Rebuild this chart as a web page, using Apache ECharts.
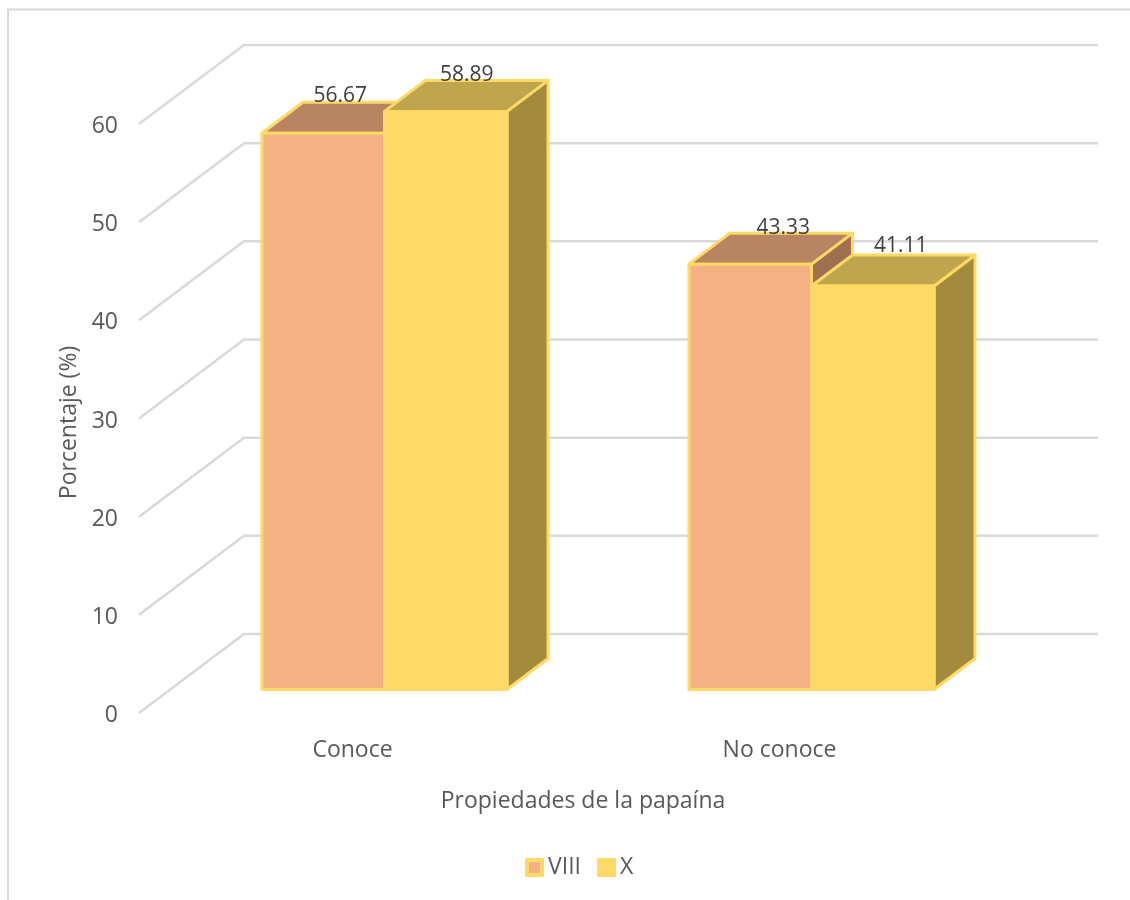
<!DOCTYPE html>
<html>
<head>
<meta charset="utf-8">
<style>html,body{margin:0;padding:0;background:#fff}#c{width:1130px;height:900px}</style>
<script src="https://cdn.jsdelivr.net/npm/echarts@6/dist/echarts.min.js"></script>
</head>
<body>
<div id="c"></div>
<script>
const categories = ['Conoce', 'No conoce'];
const seriesViii = [56.67, 43.33];
const seriesX = [58.89, 41.11];
const gridValues = [0, 10, 20, 30, 40, 50, 60];

const FONT = '"Open Sans", sans-serif';
const WALL_DX = 105, WALL_DY = 79;     // depth of the 3D floor
const FLOOR_DX = 32, FLOOR_DY = 23.5;  // where the bar fronts stand
const BAR_DX = 41, BAR_DY = 31;         // depth of one bar
const BAR_SHARE = 0.287;                // bar width as a share of the category band
const EDGE = '#FFD966';

function renderWall(params, api) {
  const p = api.coord([0, api.value(1)]);
  const cs = params.coordSys;
  const x0 = cs.x, y0 = p[1];
  const style = { stroke: '#D9D9D9', lineWidth: 2.5, fill: null };
  return {
    type: 'group',
    children: [
      { type: 'polyline', shape: { points: [[x0, y0], [x0 + WALL_DX, y0 - WALL_DY], [cs.x + cs.width + WALL_DX, y0 - WALL_DY]] }, style: style }
    ]
  };
}

function makeBar(side, front, top, dark, nudges) {
  return function (params, api) {
    const idx = api.value(0), val = api.value(1);
    const c = api.coord([idx, val]);
    const base = api.coord([idx, 0]);
    const w = api.size([1, 0])[0] * BAR_SHARE;
    const xl = c[0] + FLOOR_DX + side * w;
    const xr = xl + w;
    const yt = c[1] - FLOOR_DY;
    const yb = base[1] - FLOOR_DY;
    const stroke = { stroke: EDGE, lineWidth: 3, lineJoin: 'round' };
    const n = nudges[idx];
    return {
      type: 'group',
      children: [
        { type: 'polygon', shape: { points: [[xr, yt], [xr + BAR_DX, yt - BAR_DY], [xr + BAR_DX, yb - BAR_DY], [xr, yb]] }, style: Object.assign({ fill: dark }, stroke) },
        { type: 'polygon', shape: { points: [[xl, yt], [xl + BAR_DX, yt - BAR_DY], [xr + BAR_DX, yt - BAR_DY], [xr, yt]] }, style: Object.assign({ fill: top }, stroke) },
        { type: 'rect', shape: { x: xl, y: yt, width: w, height: yb - yt }, style: Object.assign({ fill: front }, stroke) },
        { type: 'text', z2: 100, style: { x: (xl + xr) / 2 + n[0], y: yt + n[1], text: val.toFixed(2), fill: '#404040', font: '21px ' + FONT, align: 'center', verticalAlign: 'middle' } }
      ]
    };
  };
}

const chart = echarts.init(document.getElementById('c'), null, { renderer: 'canvas' });
chart.setOption({
  animation: false,
  backgroundColor: '#ffffff',
  graphic: [
    { type: 'polyline', silent: true, shape: { points: [[8, 900], [8, 9.5], [1130, 9.5]] }, style: { stroke: '#D9D9D9', lineWidth: 2, fill: null } }
  ],
  grid: { left: 139, right: 137, top: 124, bottom: 187 },
  legend: {
    left: 520, top: 851, itemWidth: 15, itemHeight: 15, itemGap: 16,
    icon: 'rect',
    textStyle: { fontFamily: FONT, fontSize: 23, color: '#595959', padding: [0, 0, 0, 1] },
    data: [
      { name: 'VIII', itemStyle: { color: '#F4B183', borderColor: EDGE, borderWidth: 4 } },
      { name: 'X', itemStyle: { color: EDGE, borderColor: EDGE, borderWidth: 4 } }
    ]
  },
  xAxis: {
    type: 'category',
    data: categories,
    name: 'Propiedades de la papaína',
    nameLocation: 'middle',
    nameGap: 77,
    nameTextStyle: { fontFamily: FONT, fontSize: 23, color: '#595959', padding: [0, 0, 0, 34] },
    axisLine: { show: false },
    axisTick: { show: false },
    axisLabel: { margin: 26, fontFamily: FONT, fontSize: 23, color: '#595959' }
  },
  yAxis: {
    type: 'value',
    min: 0, max: 60, interval: 10,
    name: 'Porcentaje (%)',
    nameLocation: 'middle',
    nameGap: 53,
    nameTextStyle: { fontFamily: FONT, fontSize: 23, color: '#595959', padding: [0, 8, 0, 0] },
    axisLine: { show: false },
    axisTick: { show: false },
    splitLine: { show: false },
    axisLabel: { margin: 21, fontFamily: FONT, fontSize: 23, color: '#595959', verticalAlign: 'top', lineHeight: 5 }
  },
  series: [
    { type: 'custom', name: 'walls', coordinateSystem: 'cartesian2d', clip: false, silent: true, z: 1,
      data: gridValues.map(v => [0, v]), renderItem: renderWall },
    { type: 'custom', name: 'VIII', coordinateSystem: 'cartesian2d', clip: false, z: 2,
      itemStyle: { color: '#F4B183' },
      data: seriesViii.map((v, i) => [i, v]),
      renderItem: makeBar(-1, '#F4B183', '#B98461', '#9E7050', [[17, -37], [33, -36]]) },
    { type: 'custom', name: 'X', coordinateSystem: 'cartesian2d', clip: false, z: 3,
      itemStyle: { color: EDGE },
      data: seriesX.map((v, i) => [i, v]),
      renderItem: makeBar(0, EDGE, '#BFA54E', '#A38B3E', [[21, -36], [28, -40]]) }
  ]
});
</script>
</body>
</html>
